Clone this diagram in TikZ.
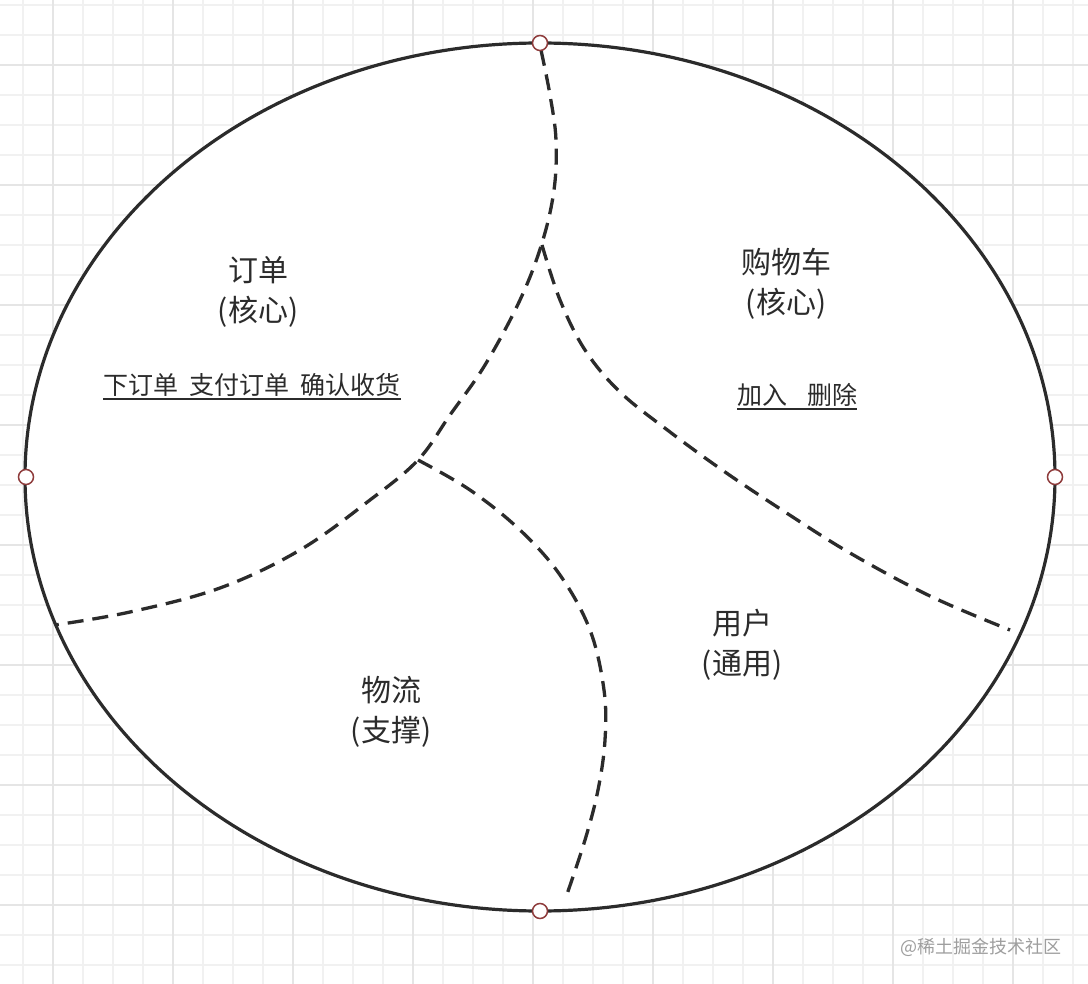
\documentclass[tikz,border=0pt]{standalone}
\usepackage{fontspec}
\usepackage{tikz}
\newfontfamily\cjk{Noto Sans CJK SC}
\definecolor{ink}{HTML}{2B2B2B}
\definecolor{pin}{HTML}{8E3B3B}
\definecolor{gridminor}{HTML}{F1F1F1}
\definecolor{gridmajor}{HTML}{E5E5E5}
\newcommand{\ulin}[1]{\draw[ink, line width=1.4pt] (#1.south west) -- (#1.south east);}

\begin{document}
\begin{tikzpicture}[x=1pt,y=-1pt,
  region/.style={font=\cjk\fontsize{30}{40}\selectfont, text=ink, align=center},
  action/.style={font=\cjk\fontsize{25}{30}\selectfont, text=ink, inner sep=0pt, outer sep=0pt, text depth=4pt, anchor=base},
  pin/.style={circle, draw=pin, fill=white, line width=1.5pt, inner sep=0pt, minimum size=15pt},
  split/.style={ink, line width=3.3pt, dash pattern=on 16pt off 9pt}]
\useasboundingbox (0,0) rectangle (1088,984);
\fill[white] (0,0) rectangle (1088,984);
%grid
\foreach \gx in {23,53,...,1088} \draw[gridminor, line width=1.2pt] (\gx,0) -- (\gx,984);
\foreach \gy in {5,35,...,984} \draw[gridminor, line width=1.2pt] (0,\gy) -- (1088,\gy);
\foreach \gx in {53,173,...,1088} \draw[gridmajor, line width=1.4pt] (\gx,0) -- (\gx,984);
\foreach \gy in {65,185,...,984} \draw[gridmajor, line width=1.4pt] (0,\gy) -- (1088,\gy);

%domain
\draw[ink, line width=3.2pt, fill=white] (540,477) ellipse [x radius=515, y radius=434];
\coordinate (j1) at (542,243);
\coordinate (j2) at (418,460);
\draw[split] plot[smooth, tension=0.6] coordinates {(541,50) (550,95) (556,140) (554,190) (542,243) (520,300) (485,365) (450,415) (418,460) (370,500) (300,550) (220,588) (130,612) (55,625)};
\draw[split] plot[smooth, tension=0.6] coordinates {(542,245) (560,300) (585,350) (620,392) (670,432) (725,472) (785,512) (850,553) (930,596) (1010,630)};
\draw[split] plot[smooth, tension=0.6] coordinates {(418,460) (470,490) (520,530) (560,575) (590,630) (604,690) (605,740) (598,790) (585,840) (565,900)};

\node[pin] (top) at (540,43) {};
\node[pin] (bot) at (540,911) {};
\node[pin] (lft) at (26,477) {};
\node[pin] (rgt) at (1055,477) {};

\node[region] (order) at (258,292) {订单\\(核心)};
\node[region] (cart) at (786,284) {购物车\\(核心)};
\node[region] (user) at (742,645) {用户\\(通用)};
\node[region] (ship) at (391,712) {物流\\(支撑)};

\node[action] (orderact) at (252,395) {下订单\hspace{0.45em}支付订单\hspace{0.45em}确认收货};
\ulin{orderact}
\node[action] (cartact) at (797,405) {加入\hspace{0.8em}删除};
\ulin{cartact}

\node[font=\cjk\fontsize{18}{20}\selectfont, text=black!38] (mark) at (981,947) {@稀土掘金技术社区};
\end{tikzpicture}
\end{document}
